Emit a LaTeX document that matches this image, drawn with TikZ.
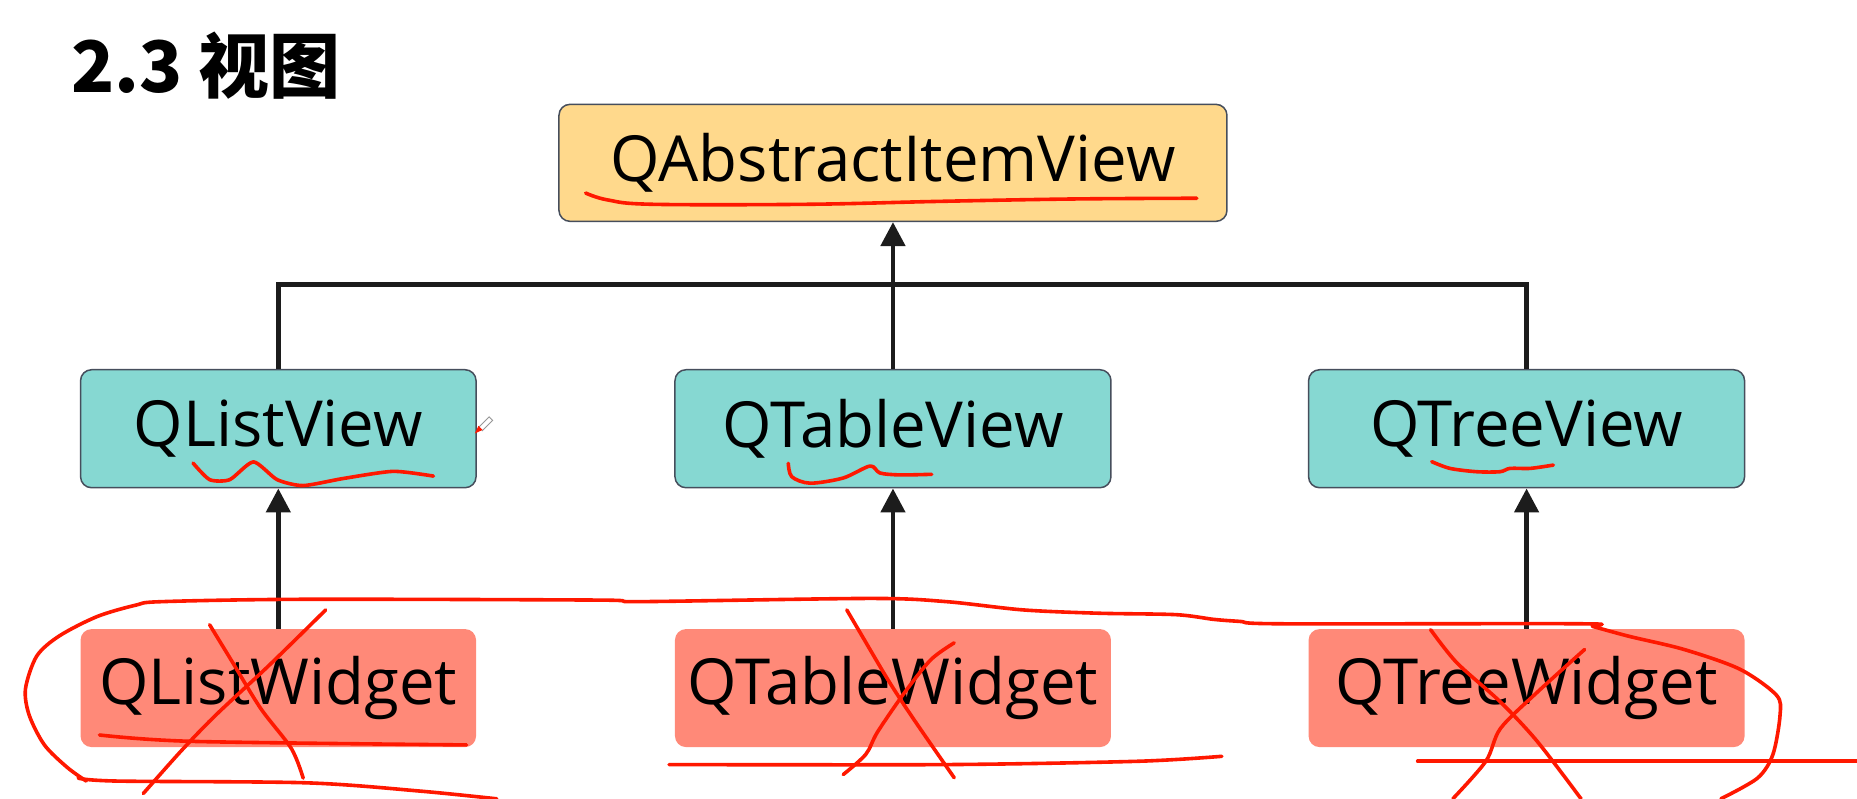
\documentclass[tikz,border=0pt]{standalone}
\usepackage{fontspec}
\setmainfont{Open Sans}
\newfontfamily\cjk{Noto Sans CJK SC}
\usetikzlibrary{arrows.meta}
\definecolor{orangefill}{RGB}{255,217,140}
\definecolor{tealfill}{RGB}{134,216,210}
\definecolor{salmonfill}{RGB}{255,137,120}
\definecolor{boxborder}{RGB}{70,78,92}
\definecolor{conncol}{RGB}{28,28,28}
\definecolor{inkred}{RGB}{255,24,0}
\definecolor{pengray}{RGB}{150,150,150}
\tikzset{
  basebox/.style={rounded corners=11pt, minimum width=395.5pt, minimum height=118pt,
    inner sep=0pt, font=\fontsize{63.5}{66}\selectfont, text=black},
  widebox/.style={minimum width=436pt},
  topbox/.style={basebox, fill=orangefill, draw=boxborder, line width=1.5pt, minimum width=668pt, minimum height=117pt},
  viewbox/.style={basebox, fill=tealfill, draw=boxborder, line width=1.5pt},
  widgetbox/.style={basebox, fill=salmonfill},
  conn/.style={draw=conncol, line width=4.8pt},
  arrowconn/.style={conn, -{Triangle[length=24pt, width=24pt]}},
  ink/.style={draw=inkred, line width=3.6pt, line cap=round, line join=round}
}
\begin{document}
\begin{tikzpicture}[x=1.1843pt, y=-1.1843pt]
\useasboundingbox[fill=white] (0,0) rectangle (1568,674);

% title
\node[anchor=base west, inner sep=0pt, font=\cjk\bfseries\fontsize{71}{75}\selectfont] (title) at (60,78) {2.3 视图};

% nodes
\node[topbox] (aiv) at (754,137.5) {QAbstractItemView};
\node[viewbox] (lv) at (235,362) {QListView};
\node[viewbox, widebox] (tbv) at (754,362) {QTableView};
\node[viewbox, widebox] (trv) at (1289,362) {QTreeView};
\node[widgetbox] (lw) at (235,581) {QListWidget};
\node[widgetbox, widebox] (tbw) at (754,581) {QTableWidget};
\node[widgetbox, widebox] (trw) at (1289,581) {QTreeWidget};

% connectors
\coordinate (bar) at (754,240.5);
\draw[conn, line join=miter] (lv.north) -- (lv.north |- bar) -- (trv.north |- bar) -- (trv.north);
\draw[arrowconn] (tbv.north) -- (aiv.south);
\draw[arrowconn] (lw.north) -- (lv.south);
\draw[arrowconn] (tbw.north) -- (tbv.south);
\draw[arrowconn] (trw.north) -- (trv.south);

% red hand annotations
% underline QAbstractItemView
\draw[ink] plot[smooth, tension=0.6] coordinates {(494.5,163) (513,168.8) (551,172.5) (682,172.5) (794.7,170) (907,168) (1010.5,167.4)};
% QListView squiggle
\draw[ink] plot[smooth, tension=0.4] coordinates {(163,391) (177,405) (194,405) (214,390) (234,405) (256,410) (290,404) (332,398) (366,402)};
% QTableView squiggle
\draw[ink] plot[smooth, tension=0.5] coordinates {(665.6,391.2) (668.5,402.5) (684,408) (712,403.6) (734.6,393.5) (743,399.4) (760,401) (786.7,400.5)};
% QTreeView squiggle
\draw[ink] plot[smooth, tension=0.5] coordinates {(1208.9,389.8) (1224.3,395.5) (1246.9,398.3) (1266.6,398.3) (1275,395.5) (1292,395.5) (1311.6,392.7)};

% big loop
\draw[ink] plot[smooth, tension=0.5] coordinates {(66,657) (98.5,659.5) (259,661) (355,668) (419.5,674.5)};
\draw[ink] plot[smooth, tension=0.5] coordinates {(72.8,659.5) (56.8,648) (37.5,629) (24.7,604) (21.5,581.7) (31,554) (50,537) (82,520.6) (114.5,511) (137,508) (259,506) (506,506.7) (541,508) (734.7,505.3) (799,508) (864,515) (928,517.8) (993,519) (1025,523) (1047,524.7) (1081,526.7) (1335,526.7) (1345,529) (1375.6,537.3) (1422,548.4) (1469,565) (1500,587) (1503,604) (1497,637) (1484,657) (1453,674.5)};

% underlines of widgets
\draw[ink] plot[smooth, tension=0.5] coordinates {(84,620.6) (162.7,626) (394,629)};
\draw[ink] plot[smooth, tension=0.5] coordinates {(565,645.6) (799,645.6) (960.7,642.8) (1031.7,638.6)};
\draw[ink] (1197,642.8) -- (1568,642.8);

% crosses
\draw[ink] plot[smooth, tension=0.5] coordinates {(275,515) (227,562) (182,604) (153,634) (121,670)};
\draw[ink] plot[smooth, tension=0.5] coordinates {(177,527.5) (195,557) (220,598) (246,632) (256,657)};
\draw[ink] plot[smooth, tension=0.5] coordinates {(715,515) (725,532) (751,576) (773,609.5) (805.7,656.7)};
\draw[ink] plot[smooth, tension=0.5] coordinates {(805.7,542.8) (786,557) (764,584.5) (741,618) (731,637) (712,654)};
\draw[ink] plot[smooth, tension=0.5] coordinates {(1208,531.7) (1230,559.5) (1267,592.8) (1298,626) (1335,674.5)};
\draw[ink] plot[smooth, tension=0.5] coordinates {(1338,548.4) (1298,584.5) (1267,615) (1254.6,642.8) (1226.7,674.5)};

% pen cursor
\draw[pengray, line width=0.9pt] (404,361) -- (413,352) -- (416,355) -- (407,364);
\fill[inkred] (401,366) -- (404,359.5) -- (407.5,363) -- cycle;
\end{tikzpicture}
\end{document}
